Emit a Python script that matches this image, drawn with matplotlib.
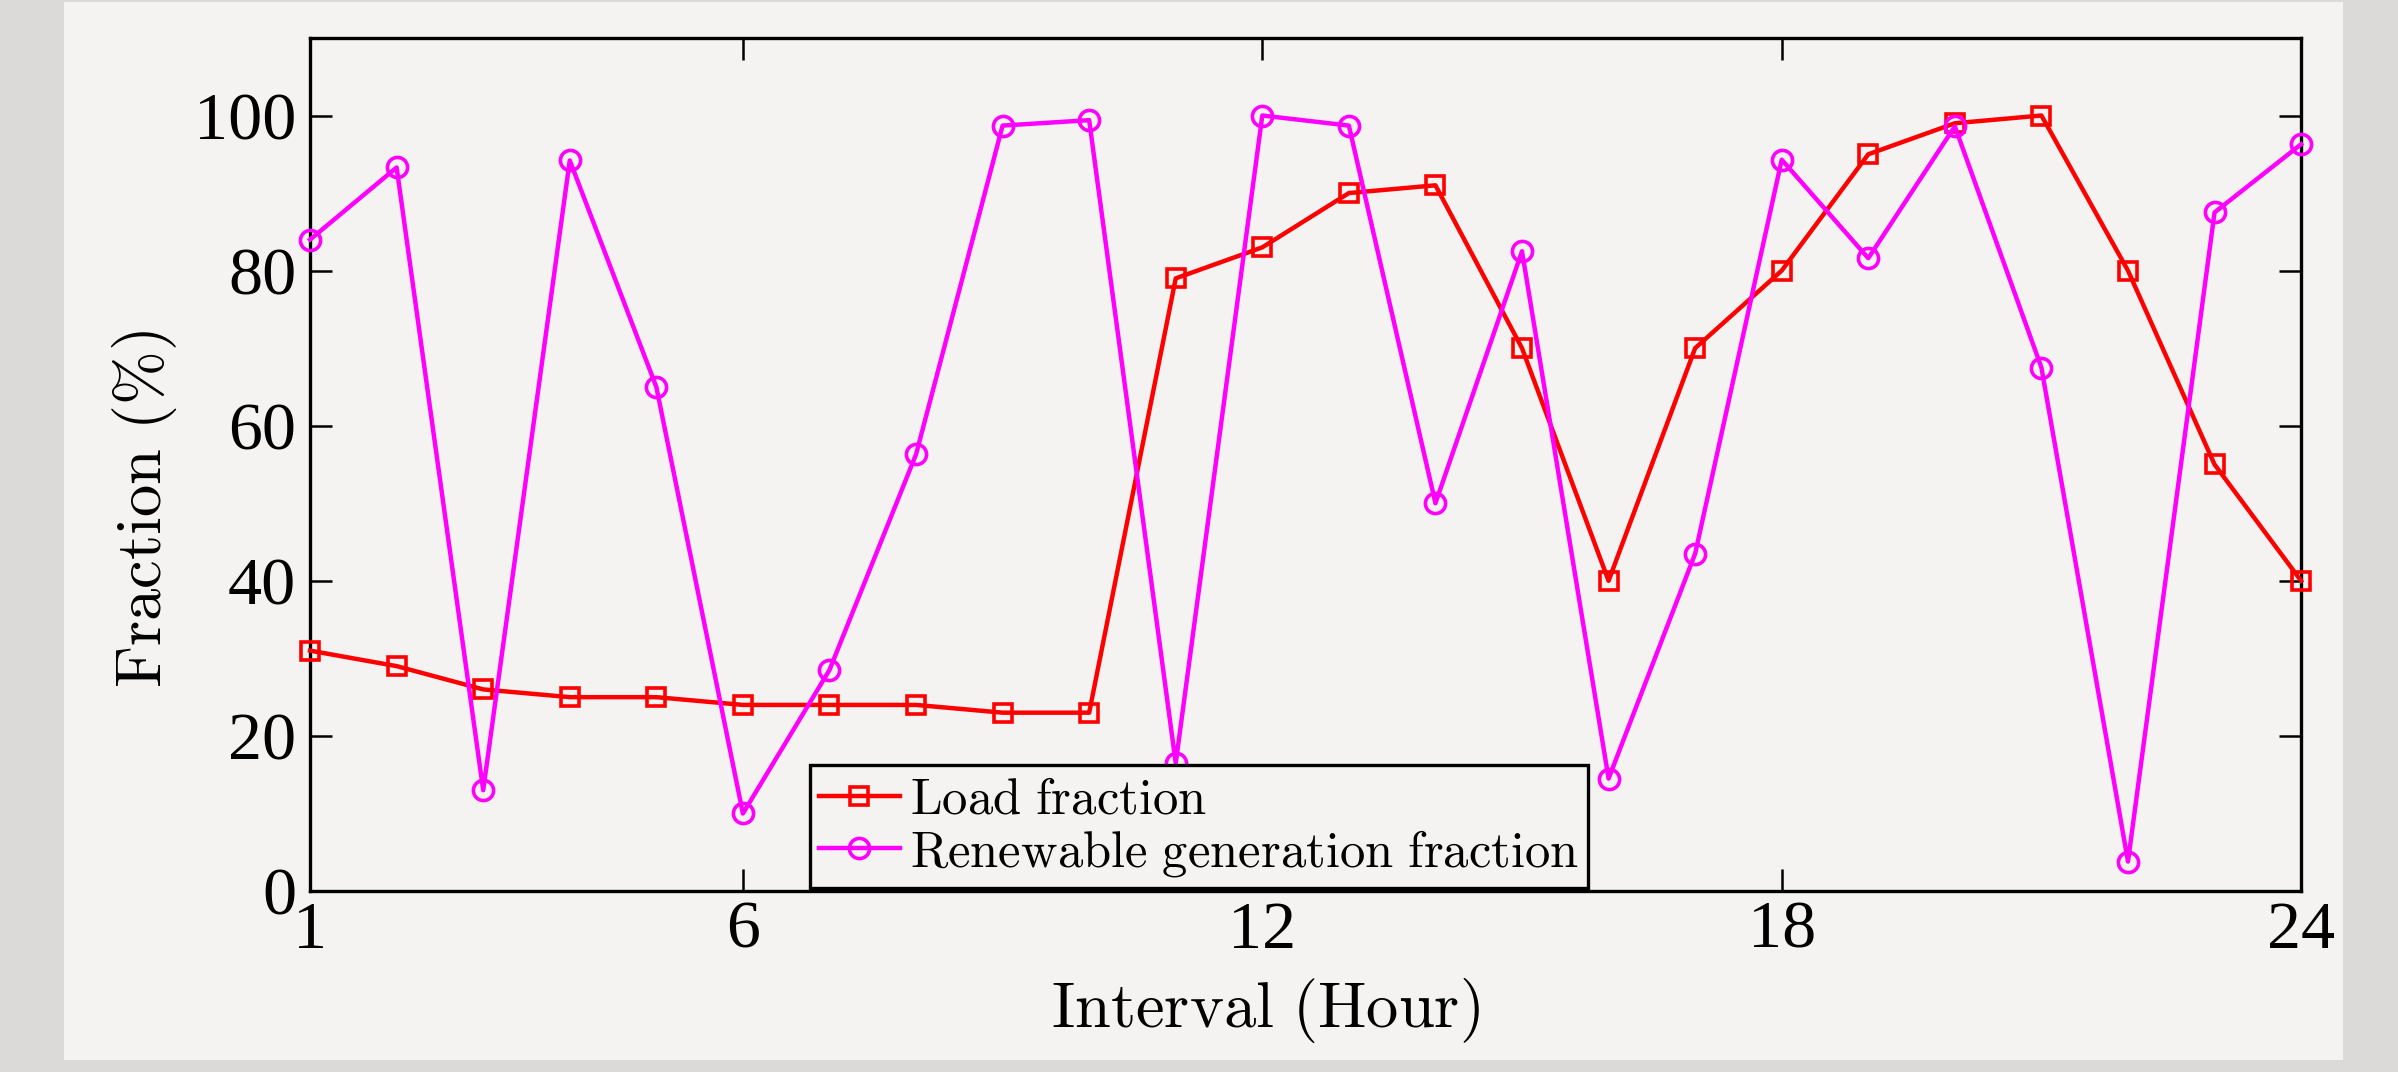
import numpy as np
import matplotlib
matplotlib.use("Agg")
import matplotlib.pyplot as plt
from matplotlib.patches import Rectangle

# dados
hours = list(range(1, 25))
load_fraction = [31, 29, 26, 25, 25, 24, 24, 24, 23, 23, 79, 83,
                 90, 91, 70, 40, 70, 80, 95, 99, 100, 80, 55, 40]
renew_fraction = [84, 93.3, 13, 94.2, 65, 10, 28.5, 56.3, 98.7, 99.4, 16.5, 100,
                  98.7, 50, 82.5, 14.5, 43.5, 94.3, 81.6, 98.6, 67.5, 3.8, 87.5, 96.3]
x_ticks = [1, 6, 12, 18, 24]
y_ticks = [0, 20, 40, 60, 80, 100]

plt.rcParams['mathtext.fontset'] = 'cm'
bg = '#f4f3f1'

fig = plt.figure(figsize=(23.98, 10.72), dpi=100, facecolor='#dcdad8')
# area clara do papel (atras dos eixos)
fig.patches.append(Rectangle((0.0267, 0.0112), 0.9504, 0.987, transform=fig.transFigure,
                             facecolor=bg, edgecolor='none', zorder=-5))

ax = fig.add_axes([0.1293, 0.1688, 0.8303, 0.7958])
ax.set_facecolor(bg)

ax.plot(hours, load_fraction, color='red', lw=3.2, marker='s', ms=12.5,
        mfc='none', mec='red', mew=2.6, label=r'$\mathrm{Load\ fraction}$', clip_on=False, zorder=3)
ax.plot(hours, renew_fraction, color='magenta', lw=3.2, marker='o', ms=14.5,
        mfc='none', mec='magenta', mew=2.6, label=r'$\mathrm{Renewable\ generation\ fraction}$',
        clip_on=False, zorder=3)

ax.set_xlim(1, 24)
ax.set_ylim(0, 110)
ax.set_xticks(x_ticks)
ax.set_yticks(y_ticks)
for s in ax.spines.values():
    s.set_linewidth(2.4)
ax.tick_params(direction='in', length=16, width=1.8, top=True, right=True, pad=10)
ax.tick_params(axis='x', pad=7)
for lab in ax.get_xticklabels() + ax.get_yticklabels():
    lab.set_fontfamily('Liberation Serif')
    lab.set_fontsize(49)

ax.set_xlabel(r'$\mathrm{Interval\ (Hour)}$', fontsize=46.5)
ax.set_ylabel(r'$\mathrm{Fraction\ (\%)}$', fontsize=46.5)
ax.xaxis.set_label_coords(0.48, -0.1)
ax.yaxis.set_label_coords(-0.066, 0.448)

leg = ax.legend(loc='lower left', bbox_to_anchor=(0.251, 0.004), borderaxespad=0,
                fontsize=36.5, fancybox=False, edgecolor='black', facecolor=bg, framealpha=1,
                handlelength=1.6, handletextpad=0.2, labelspacing=0.05, borderpad=0.18)
leg.get_frame().set_linewidth(2.4)

fig.savefig('out.png', dpi=100, facecolor=fig.get_facecolor())
